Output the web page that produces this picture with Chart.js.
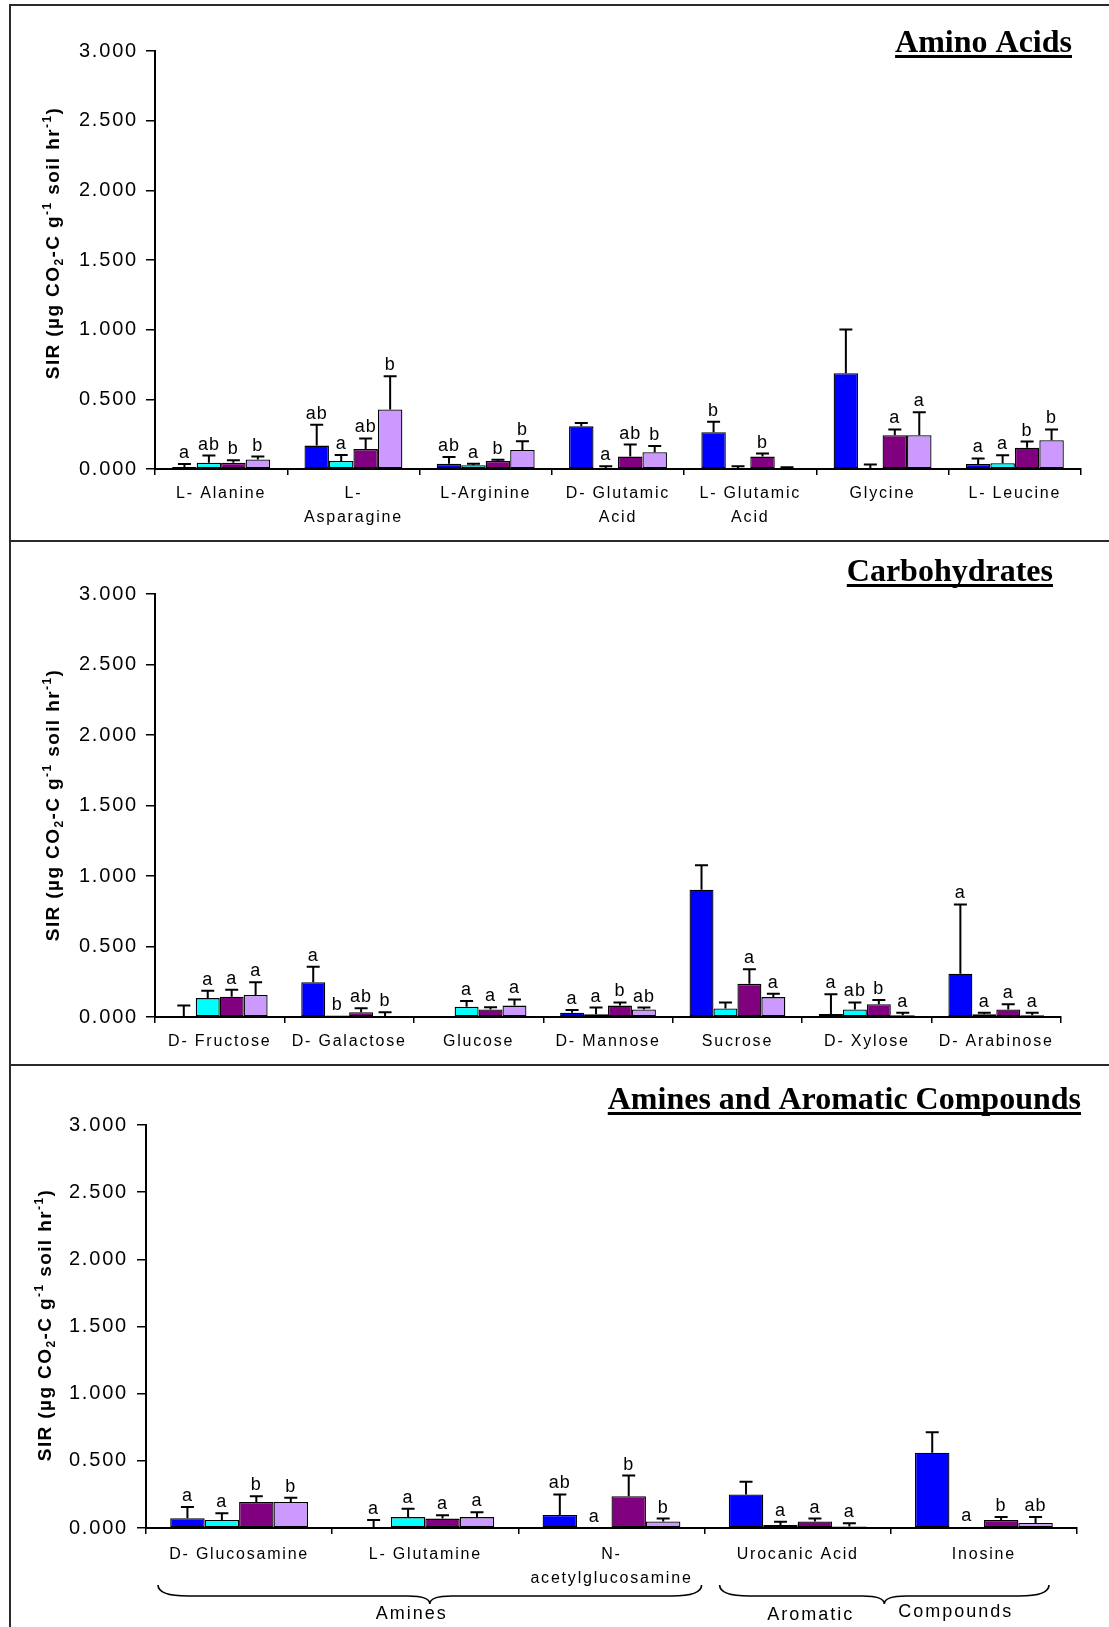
<!DOCTYPE html>
<html>
<head>
<meta charset="utf-8">
<title>SIR by substrate</title>
<script src="https://cdn.jsdelivr.net/npm/chart.js@4.4.1/dist/chart.umd.min.js"></script>
<style>
  html, body { margin: 0; padding: 0; background: #ffffff; }
  #page { position: relative; width: 1109px; height: 1627px; overflow: hidden; background: #ffffff; }
  #page canvas { position: absolute; left: 0; }
  .rule { position: absolute; background: #2a2a2a; pointer-events: none; }
</style>
</head>
<body>
<div id="page">
  <canvas id="aminoChart" width="1109" height="540" style="top:0px"></canvas>
  <canvas id="carbChart" width="1109" height="525" style="top:540px"></canvas>
  <canvas id="amineChart" width="1109" height="562" style="top:1065px"></canvas>
  <div class="rule" style="left:9px;top:4px;width:1100px;height:2px"></div>
  <div class="rule" style="left:9px;top:4px;width:2px;height:1623px"></div>
  <div class="rule" style="left:9px;top:540px;width:1100px;height:2px"></div>
  <div class="rule" style="left:9px;top:1064px;width:1100px;height:2px"></div>
</div>
<script>
// ---- series shared by all three panels ----
const seriesLabels = ['Treatment 1', 'Treatment 2', 'Treatment 3', 'Treatment 4'];
const seriesColors = ['#0000FF', '#00FFFF', '#800080', '#CC99FF'];

// ---- Amino acids ----
const aminoCategories = ['L- Alanine', ['L-', 'Asparagine'], 'L-Arginine', ['D- Glutamic', 'Acid'],
                         ['L- Glutamic', 'Acid'], 'Glycine', 'L- Leucine'];
const aminoMeans = [
  [0.015, 0.168, 0.037, 0.306, 0.264, 0.688, 0.035],
  [0.044, 0.057, 0.027, 0.005, 0.003, 0.003, 0.042],
  [0.044, 0.143, 0.057, 0.089, 0.089, 0.242, 0.153],
  [0.069, 0.427, 0.136, 0.121, 0.006, 0.242, 0.207]
];
const aminoErrors = [
  [0.020, 0.150, 0.049, 0.024, 0.076, 0.313, 0.041],
  [0.052, 0.044, 0.010, 0.015, 0.017, 0.029, 0.057],
  [0.018, 0.076, 0.010, 0.086, 0.022, 0.042, 0.044],
  [0.020, 0.239, 0.064, 0.044, 0.006, 0.165, 0.077]
];
const aminoLetters = [
  ['a', 'ab', 'ab', '', 'b', '', 'a'],
  ['ab', 'a', 'a', 'a', '', '', 'a'],
  ['b', 'ab', 'b', 'ab', 'b', 'a', 'b'],
  ['b', 'b', 'b', 'b', '', 'a', 'b']
];

// ---- Carbohydrates ----
const carbCategories = ['D- Fructose', 'D- Galactose', 'Glucose', 'D- Mannose', 'Sucrose', 'D- Xylose', 'D- Arabinose'];
const carbMeans = [
  [0.000, 0.247, 0.003, 0.031, 0.903, 0.022, 0.307],
  [0.134, 0.010, 0.072, 0.019, 0.060, 0.053, 0.019],
  [0.144, 0.034, 0.053, 0.081, 0.235, 0.091, 0.053],
  [0.156, 0.003, 0.081, 0.053, 0.141, 0.012, 0.012]
];
const carbErrors = [
  [0.081, 0.110, 0.000, 0.019, 0.173, 0.139, 0.491],
  [0.053, 0.000, 0.041, 0.048, 0.043, 0.050, 0.012],
  [0.050, 0.028, 0.016, 0.022, 0.103, 0.029, 0.038],
  [0.091, 0.031, 0.044, 0.014, 0.024, 0.019, 0.019]
];
const carbLetters = [
  ['', 'a', '', 'a', '', 'a', 'a'],
  ['a', 'b', 'a', 'a', '', 'ab', 'a'],
  ['a', 'ab', 'a', 'b', 'a', 'b', 'a'],
  ['a', 'b', 'a', 'ab', 'a', 'a', 'a']
];

// ---- Amines and aromatic compounds ----
const amineCategories = ['D- Glucosamine', 'L- Glutamine', ['N-', 'acetylglucosamine'], 'Urocanic Acid', 'Inosine'];
const amineMeans = [
  [0.073, 0.000, 0.097, 0.250, 0.560],
  [0.059, 0.081, 0.000, 0.022, 0.005],
  [0.194, 0.070, 0.237, 0.048, 0.059],
  [0.194, 0.081, 0.048, 0.011, 0.038]
];
const amineErrors = [
  [0.083, 0.059, 0.153, 0.094, 0.153],
  [0.051, 0.062, 0.000, 0.024, 0.000],
  [0.043, 0.024, 0.153, 0.022, 0.022],
  [0.032, 0.037, 0.022, 0.024, 0.043]
];
const amineLetters = [
  ['a', 'a', 'ab', '', ''],
  ['a', 'a', 'a', 'a', 'a'],
  ['b', 'a', 'b', 'a', 'b'],
  ['b', 'a', 'b', 'a', 'ab']
];
// compound classes bracketed under the axis (first and last category index of each)
const groupNames = ['Amines', 'Aromatic Compounds'];
const groupFirst = [0, 3];
const groupLast = [2, 4];

// ---- axis ----
const yMin = 0, yMax = 3, yStep = 0.5;
const yTitleParts = [['SIR (\u00b5g CO', 0], ['2', 1], ['-C g', 0], ['-1', -1], [' soil hr', 0], ['-1', -1], [')', 0]];

const SANS = '"Liberation Sans", Arial, Helvetica, sans-serif';
const SERIF = '"Liberation Serif", "Times New Roman", Times, serif';
const SPACING = '1.8px';

Chart.defaults.font.family = SANS;
Chart.defaults.color = '#000';

// wide letter spacing for the axis text
const spacingPlugin = {
  id: 'spacing',
  beforeUpdate(chart) { chart.ctx.letterSpacing = SPACING; },
  beforeDraw(chart) { chart.ctx.letterSpacing = SPACING; }
};

function errorBarPlugin(errors, letters) {
  return {
    id: 'errorBars',
    afterDatasetsDraw(chart) {
      const ctx = chart.ctx;
      const y = chart.scales.y;
      ctx.save();
      ctx.strokeStyle = '#000';
      ctx.fillStyle = '#000';
      ctx.lineWidth = 2;
      ctx.letterSpacing = '1px';
      ctx.font = '18px ' + SANS;
      ctx.textAlign = 'center';
      ctx.textBaseline = 'alphabetic';
      chart.data.datasets.forEach((ds, i) => {
        chart.getDatasetMeta(i).data.forEach((bar, j) => {
          const err = errors[i][j];
          const top = y.getPixelForValue(ds.data[j] + err);
          if (err > 0) {
            ctx.beginPath();
            ctx.moveTo(bar.x, bar.y);
            ctx.lineTo(bar.x, top);
            ctx.moveTo(bar.x - 6.5, top);
            ctx.lineTo(bar.x + 6.5, top);
            ctx.stroke();
          }
          if (letters[i][j]) ctx.fillText(letters[i][j], bar.x, top - 6);
        });
      });
      ctx.restore();
    }
  };
}

function headingPlugin(text, right, baseline) {
  return {
    id: 'heading',
    afterDraw(chart) {
      const ctx = chart.ctx;
      ctx.save();
      ctx.letterSpacing = '0px';
      ctx.font = 'bold 32px ' + SERIF;
      ctx.fillStyle = '#000';
      ctx.textAlign = 'right';
      ctx.textBaseline = 'alphabetic';
      ctx.fillText(text, right, baseline);
      const w = ctx.measureText(text).width;
      ctx.fillRect(right - w, baseline + 3, w, 3);
      ctx.restore();
    }
  };
}

function yTitlePlugin(cx, cy) {
  return {
    id: 'yTitle',
    afterDraw(chart) {
      const ctx = chart.ctx;
      ctx.save();
      ctx.letterSpacing = '1.4px';
      ctx.fillStyle = '#000';
      ctx.textBaseline = 'alphabetic';
      ctx.textAlign = 'left';
      const big = 'bold 19px ' + SANS, small = 'bold 12px ' + SANS;
      let total = 0;
      yTitleParts.forEach(([t, s]) => { ctx.font = s ? small : big; total += ctx.measureText(t).width; });
      ctx.translate(cx + 7, cy);
      ctx.rotate(-Math.PI / 2);
      let x = -total / 2;
      yTitleParts.forEach(([t, s]) => {
        ctx.font = s ? small : big;
        const dy = s === 1 ? 4 : (s === -1 ? -8 : 0);
        ctx.fillText(t, x, dy);
        x += ctx.measureText(t).width;
      });
      ctx.restore();
    }
  };
}

function bracePlugin() {
  return {
    id: 'braces',
    afterDraw(chart) {
      const ctx = chart.ctx;
      const xs = chart.scales.x;
      const bottom = chart.chartArea.bottom;
      const half = (xs.getPixelForValue(1) - xs.getPixelForValue(0)) / 2;
      const yEnd = bottom + 57, yMid = bottom + 68, yTip = bottom + 76;
      ctx.save();
      ctx.strokeStyle = '#000';
      ctx.lineWidth = 1.6;
      ctx.letterSpacing = '2px';
      ctx.font = '18px ' + SANS;
      ctx.fillStyle = '#000';
      groupNames.forEach((name, g) => {
        const x0 = xs.getPixelForValue(groupFirst[g]) - half + (g === 0 ? 12 : 15);
        const x1 = xs.getPixelForValue(groupLast[g]) + half - (g === 0 ? 3 : 28);
        const tip = (x0 + x1) / 2;
        const r = 30, rt = 22;
        ctx.beginPath();
        ctx.moveTo(x0, yEnd);
        ctx.quadraticCurveTo(x0, yMid, x0 + r, yMid);
        ctx.lineTo(tip - rt, yMid);
        ctx.quadraticCurveTo(tip, yMid, tip, yTip);
        ctx.quadraticCurveTo(tip, yMid, tip + rt, yMid);
        ctx.lineTo(x1 - r, yMid);
        ctx.quadraticCurveTo(x1, yMid, x1, yEnd);
        ctx.stroke();
        const words = name.split(' ');
        if (words.length === 1) {
          ctx.textAlign = 'center';
          ctx.fillText(name, tip - 18, bottom + 91);
        } else {
          ctx.textAlign = 'right';
          ctx.fillText(words[0], tip - 30, bottom + 92);
          ctx.textAlign = 'left';
          ctx.fillText(words.slice(1).join(' '), tip + 14, bottom + 89);
        }
      });
      ctx.restore();
    }
  };
}

function makePanel(canvasId, categories, means, errors, letters, geo, extraPlugins) {
  const canvas = document.getElementById(canvasId);
  const H = canvas.height;
  return new Chart(canvas, {
    type: 'bar',
    data: {
      labels: categories,
      datasets: means.map((vals, i) => ({
        label: seriesLabels[i],
        data: vals,
        backgroundColor: seriesColors[i],
        borderColor: '#000',
        borderWidth: 1.3,
        borderSkipped: false,
        categoryPercentage: 0.74,
        barPercentage: 1.0
      }))
    },
    options: {
      responsive: false,
      animation: false,
      events: [],
      layout: { padding: { left: 0, right: 1109 - geo.right, top: geo.top, bottom: 0 } },
      plugins: { legend: { display: false }, tooltip: { enabled: false }, title: { display: false } },
      scales: {
        x: {
          grid: { display: true, drawOnChartArea: false, offset: true, tickLength: 6, color: '#000', lineWidth: 1.5 },
          border: { display: true, color: '#000', width: 2 },
          ticks: { color: '#000', font: { size: 16, lineHeight: 1.5 }, padding: geo.xPad, maxRotation: 0, minRotation: 0, autoSkip: false },
          afterFit: (s) => { s.height = H - geo.bottom; }
        },
        y: {
          min: yMin, max: yMax,
          grid: { display: true, drawOnChartArea: false, tickLength: 9, color: '#000', lineWidth: 1.5 },
          border: { display: true, color: '#000', width: 2 },
          ticks: { stepSize: yStep, color: '#000', font: { size: 20 }, padding: geo.tickPad,
                   callback: (v) => Number(v).toFixed(3) },
          afterFit: (s) => { s.width = geo.left; }
        }
      }
    },
    plugins: [spacingPlugin, errorBarPlugin(errors, letters)].concat(extraPlugins)
  });
}

makePanel('aminoChart', aminoCategories, aminoMeans, aminoErrors, aminoLetters,
  { left: 155, right: 1081, top: 51, bottom: 469, tickPad: 8, xPad: 7 },
  [headingPlugin('Amino Acids', 1072, 52), yTitlePlugin(52, 243)]);

makePanel('carbChart', carbCategories, carbMeans, carbErrors, carbLetters,
  { left: 155, right: 1061, top: 54, bottom: 477, tickPad: 8, xPad: 7 },
  [headingPlugin('Carbohydrates', 1053, 41), yTitlePlugin(52, 265)]);

makePanel('amineChart', amineCategories, amineMeans, amineErrors, amineLetters,
  { left: 146, right: 1077, top: 60, bottom: 463, tickPad: 9, xPad: 9 },
  [headingPlugin('Amines and Aromatic Compounds', 1081, 44), yTitlePlugin(44, 260), bracePlugin()]);
</script>
</body>
</html>
